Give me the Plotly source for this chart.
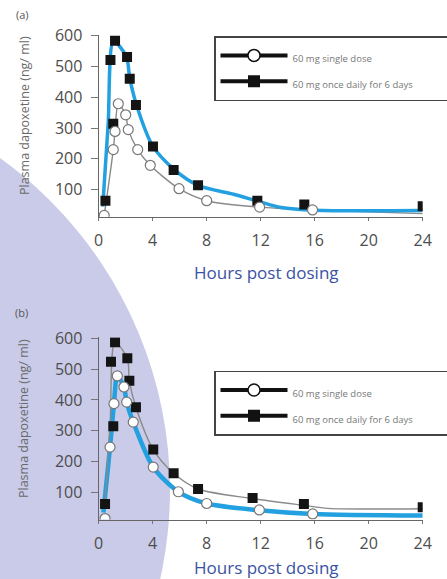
import plotly.graph_objects as go

# ---------------- data ----------------
# Panel (a)
a_single_t = [0.41, 1.08, 1.21, 1.45, 2.0, 2.19, 2.89, 3.82, 5.95, 8.0, 11.92, 15.84]
a_single_v = [16, 230, 289, 379, 343, 295, 230, 179, 103, 64, 43, 34]
a_multi_t = [0.5, 0.87, 1.08, 1.21, 2.1, 2.3, 2.76, 4.02, 5.55, 7.36, 11.75, 15.23, 24.0]
a_multi_v = [64, 521, 314, 584, 531, 460, 375, 240, 164, 114, 64, 52, 46]
# fitted curves panel (a)
a_single_fit_t = [0.41, 1.08, 1.21, 1.45, 2.0, 2.19, 2.89, 3.82, 5.95, 8.0, 11.92, 15.84, 24.0]
a_single_fit_v = [16, 230, 289, 379, 343, 295, 230, 179, 103, 64, 43, 34, 22]
a_multi_fit_t = [0.3, 0.7, 1.1, 2.05, 2.3, 2.8, 4.0, 5.6, 7.4, 10.0, 11.8, 13.5, 16.0, 24.0]
a_multi_fit_v = [45, 313, 582, 532, 462, 375, 242, 165, 113, 85, 62, 42, 33, 32]

# Panel (b)
b_single_t = [0.47, 0.84, 1.13, 1.38, 1.87, 2.07, 2.56, 4.04, 5.9, 8.0, 11.9, 15.85]
b_single_v = [15, 247, 388, 478, 442, 393, 328, 182, 102, 64, 43, 30]
b_multi_t = [0.47, 0.91, 1.08, 1.21, 2.12, 2.27, 2.76, 4.04, 5.55, 7.36, 11.4, 15.2, 24.0]
b_multi_v = [62, 524, 315, 587, 535, 462, 376, 239, 162, 111, 82, 62, 52]
# fitted curves panel (b)
b_single_fit_t = [0.35, 0.84, 1.13, 1.38, 1.87, 2.07, 2.56, 4.04, 5.9, 8.0, 11.9, 15.85, 24.0]
b_single_fit_v = [35, 247, 388, 478, 442, 393, 328, 182, 102, 64, 42, 30, 25]
b_multi_fit_t = [0.47, 0.85, 1.2, 2.12, 2.27, 2.76, 4.04, 5.55, 7.36, 11.4, 15.2, 17.0, 24.0]
b_multi_fit_v = [62, 330, 587, 535, 462, 376, 239, 162, 111, 80, 58, 48, 47]

x_ticks = [0, 4, 8, 12, 16, 20, 24]
y_ticks = [100, 200, 300, 400, 500, 600]
legend_names = ["60 mg single dose", "60 mg once daily for 6 days"]
x_title = "Hours post dosing"
y_title = "Plasma dapoxetine (ng/ ml)"
panel_labels = ["(a)", "(b)"]

# ---------------- styles ----------------
W, H = 447, 579
BLUE = "#22a0e0"
GREY_LINE = "#8a8a8a"
SQ = "#141414"
FONT = "Open Sans"
TICK_COL = "#4d4d4d"
TITLE_BLUE = "#3a52a4"
LAV = "#c9cbe8"

fig = go.Figure()

def add_panel(xa, ya, s_t, s_v, m_t, m_v, sf_t, sf_v, mf_t, mf_v, single_blue, blue_w):
    fig.add_trace(go.Scatter(
        x=sf_t, y=sf_v, mode="lines", xaxis=xa, yaxis=ya, showlegend=False,
        line=dict(color=BLUE if single_blue else GREY_LINE,
                  width=blue_w if single_blue else 1.4, shape="spline", smoothing=0.8),
        hoverinfo="skip"))
    fig.add_trace(go.Scatter(
        x=mf_t, y=mf_v, mode="lines", xaxis=xa, yaxis=ya, showlegend=False,
        line=dict(color=GREY_LINE if single_blue else BLUE,
                  width=1.4 if single_blue else blue_w, shape="spline", smoothing=0.8),
        hoverinfo="skip"))
    fig.add_trace(go.Scatter(
        x=m_t, y=m_v, mode="markers", xaxis=xa, yaxis=ya, showlegend=False,
        marker=dict(symbol="square", size=10, color=SQ, line=dict(width=0))))
    fig.add_trace(go.Scatter(
        x=s_t, y=s_v, mode="markers", xaxis=xa, yaxis=ya, showlegend=False,
        marker=dict(symbol="circle", size=10, color="white",
                    line=dict(width=1.2, color="#777777"))))

add_panel("x", "y", a_single_t, a_single_v, a_multi_t, a_multi_v,
          a_single_fit_t, a_single_fit_v, a_multi_fit_t, a_multi_fit_v, False, 3.5)
add_panel("x2", "y2", b_single_t, b_single_v, b_multi_t, b_multi_v,
          b_single_fit_t, b_single_fit_v, b_multi_fit_t, b_multi_fit_v, True, 4.5)

def small(t):
    return "<span style='font-size:9.5px'>" + t + "</span>"

for lg in ["legend", "legend2"]:
    fig.add_trace(go.Scatter(
        x=[None], y=[None], mode="lines+markers", name=small(legend_names[0]), legend=lg,
        line=dict(color="#111111", width=4),
        marker=dict(symbol="circle", size=12, color="white", line=dict(width=1.5, color="#111111"))))
    fig.add_trace(go.Scatter(
        x=[None], y=[None], mode="lines+markers", name=small(legend_names[1]), legend=lg,
        line=dict(color="#111111", width=4),
        marker=dict(symbol="square", size=12, color="#111111")))

xdom = [98.7 / W, 422.7 / W]
ydom_a = [1 - 216.7 / H, 1 - 34.8 / H]
ydom_b = [1 - 519.5 / H, 1 - 337.4 / H]

xaxis_common = dict(range=[0, 24], tickvals=x_ticks, ticks="outside", ticklen=3,
                    tickcolor="#777", showline=True, linecolor="#666", linewidth=1.2,
                    showgrid=False, zeroline=False, ticklabelstandoff=6,
                    tickfont=dict(family=FONT, size=16, color=TICK_COL), domain=xdom)
yaxis_common = dict(range=[12, 603], tickvals=y_ticks, ticks="outside", ticklen=7,
                    tickcolor="#777", showline=True, linecolor="#666", linewidth=1.2,
                    showgrid=False, zeroline=False, ticklabelstandoff=5,
                    tickfont=dict(family=FONT, size=16, color=TICK_COL))

legend_common = dict(x=214 / W, xanchor="left", yanchor="top", bgcolor="white",
                     bordercolor="#444", borderwidth=1.5,
                     font=dict(family=FONT, size=17.5, color="#777"),
                     orientation="h", entrywidthmode="pixels", entrywidth=152,
                     itemwidth=67)

def ann(text, x, y, size, color, angle=0):
    return dict(text=text, x=x / W, y=1 - y / H, xref="paper", yref="paper",
                xanchor="center", yanchor="middle", textangle=angle, showarrow=False,
                font=dict(family=FONT, size=size, color=color))

fig.update_layout(
    width=W, height=H, autosize=False,
    margin=dict(l=0, r=0, t=0, b=0, autoexpand=False),
    paper_bgcolor="white", plot_bgcolor="rgba(0,0,0,0)",
    xaxis=dict(**xaxis_common, anchor="y"),
    yaxis=dict(**yaxis_common, domain=ydom_a, anchor="x"),
    xaxis2=dict(**xaxis_common, anchor="y2"),
    yaxis2=dict(**yaxis_common, domain=ydom_b, anchor="x2"),
    legend=dict(**legend_common, y=1 - 36 / H),
    legend2=dict(**legend_common, y=1 - 370.7 / H),
    shapes=[dict(type="circle", xref="paper", yref="paper", layer="below",
                 x0=(-239 - 409) / W, x1=(-239 + 409) / W,
                 y0=1 - (490 + 409) / H, y1=1 - (490 - 409) / H,
                 fillcolor=LAV, line=dict(width=0))],
    annotations=[
        ann(panel_labels[0], 22, 15, 11, "#555"),
        ann(panel_labels[1], 21, 312, 11, "#555"),
        ann(y_title, 25, 116, 12.5, "#6a6a6a", -90),
        ann(y_title, 23, 419, 12.5, "#6a6a6a", -90),
        ann(x_title, 266, 272, 17, TITLE_BLUE),
        ann(x_title, 266, 567, 17, TITLE_BLUE),
    ],
)

fig.write_html("out.html", config={"displayModeBar": False},
               post_script="document.body.style.margin='0px';")
